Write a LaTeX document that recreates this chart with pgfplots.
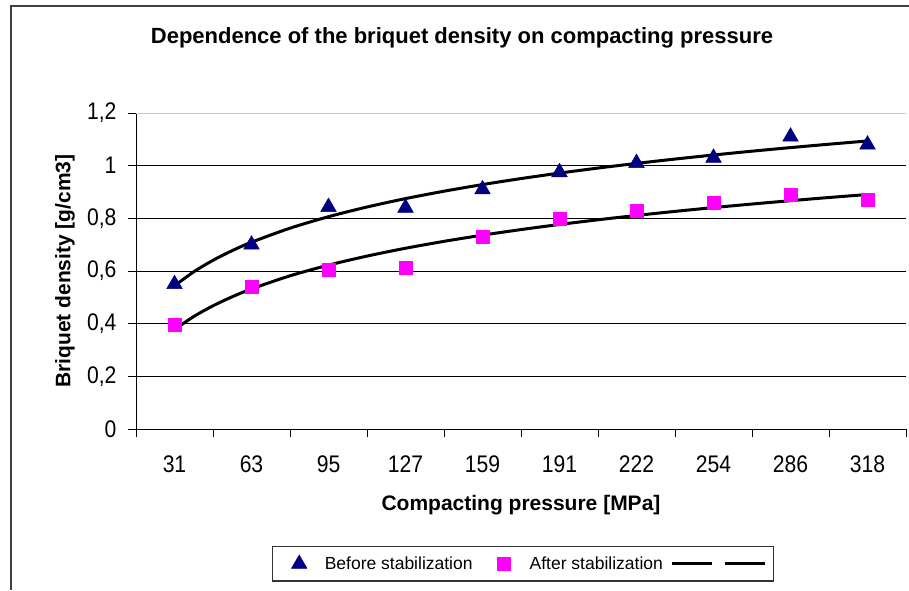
\documentclass[border=0pt]{standalone}
\usepackage{pgfplots}
\pgfplotsset{compat=1.18}
\usepackage{fontspec}
\setmainfont{Liberation Sans}
\newfontfamily\tickfont[FakeStretch=0.88]{Liberation Sans}
\definecolor{navytri}{RGB}{0,0,128}
\definecolor{magsq}{RGB}{255,0,255}
\pgfplotsset{markimg/.style={legend image code/.code={\path[draw=none,fill=none] (-23.5pt,0pt) -- (23.5pt,0pt); \draw[mark repeat=2,mark phase=2,##1] plot coordinates {(-1pt,0pt) (0pt,0pt) (1pt,0pt)};}}}
\begin{document}
\begin{tikzpicture}[x=1pt,y=1pt]
\path[use as bounding box] (0,0) rectangle (909,590);
\draw[line width=1.5pt, black!75] (11,0) -- (11,584) -- (909,584);
\node[font=\fontsize{22}{26}\selectfont\bfseries] at (462,552) {Dependence of the briquet density on compacting pressure};
\begin{axis}[
  at={(136pt,161pt)}, anchor=south west, scale only axis,
  width=770pt, height=316pt,
  xmin=0.5, xmax=10.5, ymin=0, ymax=1.2,
  axis x line*=bottom, axis y line*=left,
  axis line style={line width=0.8pt, black},
  xtick={0.5,1.5,2.5,3.5,4.5,5.5,6.5,7.5,8.5,9.5,10.5},
  x tick label as interval,
  xticklabels={31,63,95,127,159,191,222,254,286,318},
  ytick={0,0.2,0.4,0.6,0.8,1},
  yticklabels={0,{0,2},{0,4},{0,6},{0,8},1},
  extra y ticks={1.2},
  extra y tick labels={1{,}2},
  extra y tick style={grid style={black!20, line width=1pt}},
  ymajorgrids,
  grid style={black, line width=0.8pt},
  tick align=outside, major tick length=8pt,
  tick style={black, line width=0.8pt},
  /pgf/number format/assume math mode=true,
  ticklabel style={font=\tickfont\fontsize{24}{28}\selectfont},
  xticklabel style={yshift=-15pt},
  yticklabel style={xshift=-8pt},
  xlabel={Compacting pressure [MPa]},
  ylabel={Briquet density [g/cm3]},
  label style={font=\fontsize{21}{25}\selectfont\bfseries},
  xlabel style={at={(axis description cs:0.5,-0.2405)}, anchor=center},
  ylabel style={at={(axis description cs:-0.0922,0.5)}, anchor=center},
  legend style={at={(0.503,-0.427)}, anchor=center, legend columns=4,
    draw=black!80, line width=1.2pt, inner ysep=8pt, font=\fontsize{17.5}{21}\selectfont,
    /tikz/every even column/.append style={column sep=6pt}},
]
\addplot[only marks, mark=triangle*, mark size=9pt, color=navytri, mark options={draw=navytri, fill=navytri, line width=0.5pt}, markimg]
  coordinates {(1,0.55) (2,0.70) (3,0.843) (4,0.84) (5,0.91) (6,0.975) (7,1.01) (8,1.03) (9,1.11) (10,1.08)};
\addlegendentry{Before stabilization}
\addplot[only marks, mark=square*, mark size=6.5pt, color=magsq, mark options={draw=magsq, fill=magsq, line width=0.5pt}, markimg]
  coordinates {(1,0.395) (2,0.54) (3,0.605) (4,0.614) (5,0.73) (6,0.80) (7,0.83) (8,0.86) (9,0.89) (10,0.87)};
\addlegendentry{After stabilization}
\addplot[black, line width=3pt, smooth, legend image code/.code={\draw[black, line width=3pt] (0pt,0pt) -- (40pt,0pt);}]
  coordinates {(1,0.5437) (1.25,0.5970) (1.5,0.6406) (1.75,0.6774) (2,0.7093) (2.5,0.7626) (3,0.8062) (3.5,0.8430) (4,0.8749) (4.5,0.9030) (5,0.9282) (5.5,0.9510) (6,0.9718) (6.5,0.9909) (7,1.0086) (7.5,1.0251) (8,1.0405) (8.5,1.0550) (9,1.0686) (9.5,1.0815) (10,1.0938)};
\addlegendentry{}
\addplot[black, line width=3pt, smooth, legend image code/.code={\draw[black, line width=3pt] (0pt,0pt) -- (40pt,0pt);}]
  coordinates {(1,0.3775) (1.25,0.4272) (1.5,0.4678) (1.75,0.5022) (2,0.5319) (2.5,0.5817) (3,0.6223) (3.5,0.6566) (4,0.6864) (4.5,0.7126) (5,0.7361) (5.5,0.7573) (6,0.7767) (6.5,0.7945) (7,0.8110) (7.5,0.8264) (8,0.8408) (8.5,0.8543) (9,0.8670) (9.5,0.8791) (10,0.8905)};
\addlegendentry{}
\end{axis}
\end{tikzpicture}
\end{document}
